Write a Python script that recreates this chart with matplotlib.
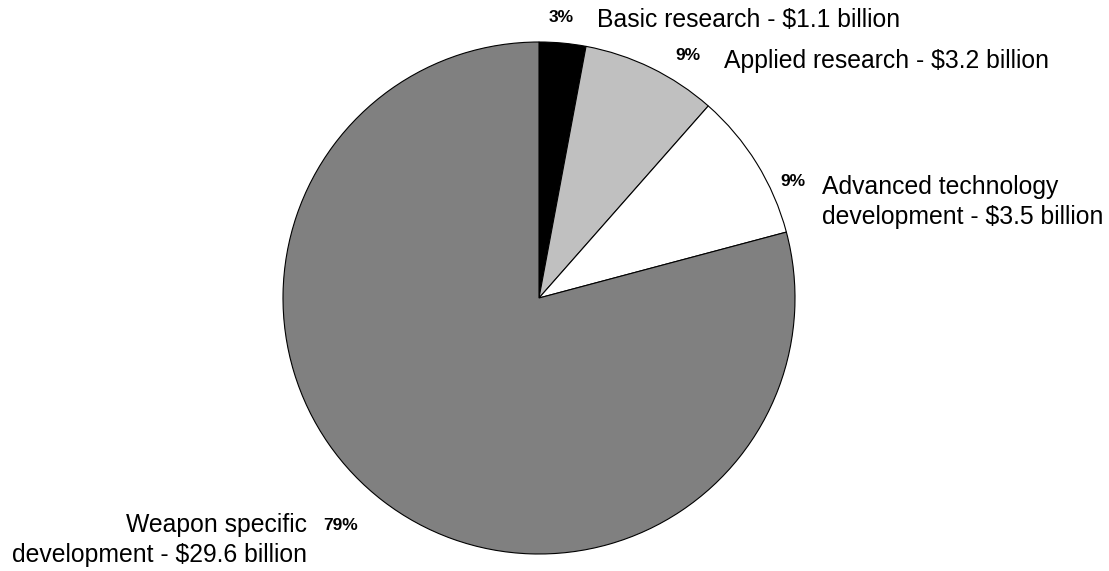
import matplotlib
matplotlib.use("Agg")
from matplotlib import pyplot as plt

plt.rcParams['font.family'] = ['Liberation Sans', 'DejaVu Sans']

labels = ['Basic research - $1.1 billion',
          'Applied research - $3.2 billion',
          'Advanced technology\ndevelopment - $3.5 billion',
          'Weapon specific\ndevelopment - $29.6 billion']
values = [1.1, 3.2, 3.5, 29.6]
colors = ['#000000', '#c0c0c0', '#ffffff', '#808080']

W, H = 1109, 571
fig = plt.figure(figsize=(W / 100, H / 100), dpi=100)
ax = fig.add_axes([0, 0, 1, 1])

ax.pie(values, colors=colors, startangle=90, counterclock=False,
       center=(539, H - 298), radius=256, frame=True,
       wedgeprops=dict(edgecolor='black', linewidth=0.8))
ax.set_xlim(0, W)
ax.set_ylim(0, H)
ax.set_aspect('equal')
ax.axis('off')

total = sum(values)
pcts = ['{0:.0f}%'.format(v / total * 100) for v in values]

# (pct x, pct y, label x, label y, ha)  in pixels from top-left
spots = [
    (549, 18, 597, 20, 'left'),
    (675, 56, 724, 61, 'left'),
    (780, 182, 822, 202, 'left'),
    (323, 526, 307, 540, 'right'),
]
for (px, py, lx, ly, ha), lab, pct in zip(spots, labels, pcts):
    ax.text(px, H - py, pct, fontsize=12.5, fontweight='bold', ha='left', va='center')
    ax.text(lx, H - ly, lab, fontsize=17.8, ha=ha, va='center', multialignment=ha,
            linespacing=1.3)

fig.savefig('out.png', dpi=100)
